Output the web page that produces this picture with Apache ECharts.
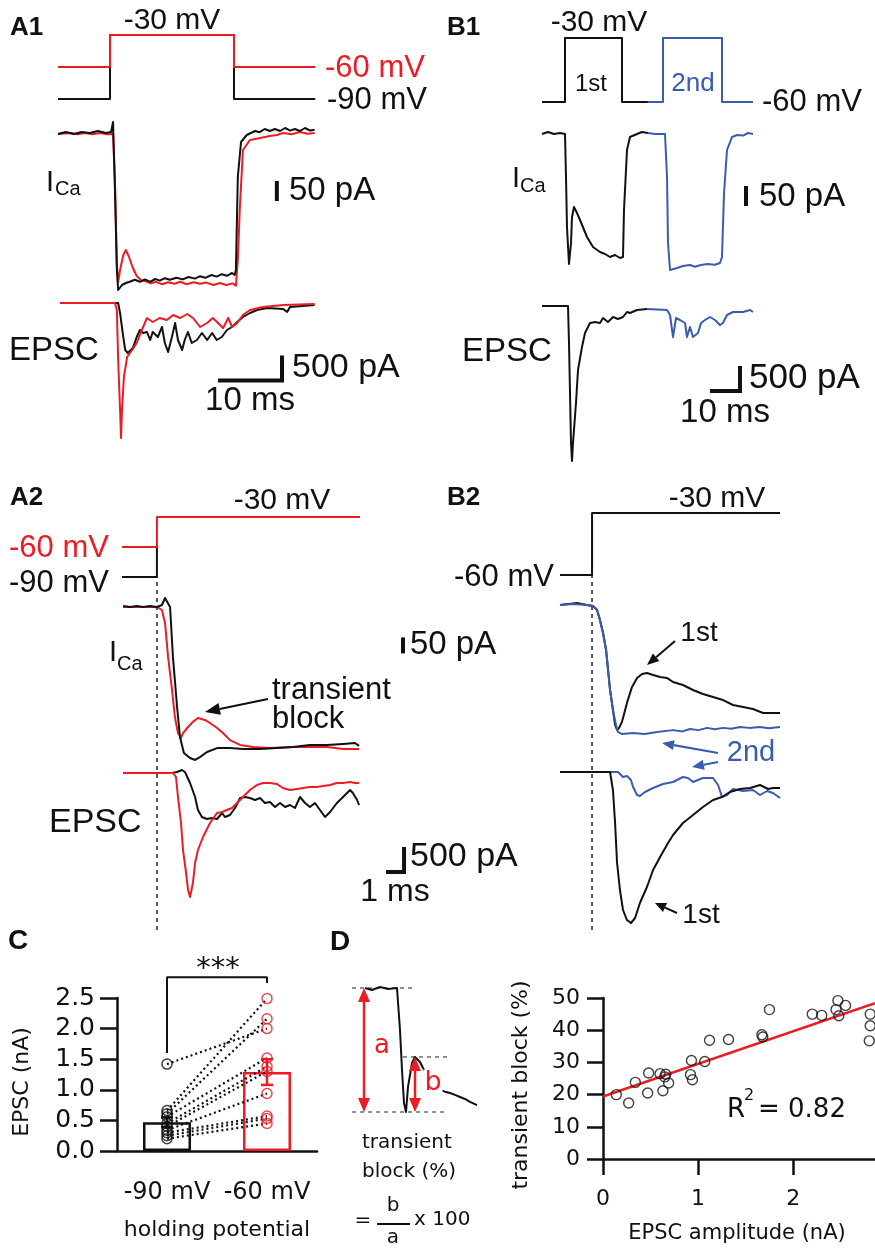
<!DOCTYPE html>
<html><head><meta charset="utf-8">
<script src="https://cdn.jsdelivr.net/npm/echarts@6.0.0/dist/echarts.min.js"></script>
<style>html,body{margin:0;padding:0;background:#fff}#c{width:875px;height:1248px}</style>
</head><body><div id="c"></div>
<script>
// ---------- DATA (time in ms, current in pA, voltage in mV) ----------
// A1
const a1VoltRed = [[0,-60],[8.13,-60],[8.13,-30],[27.5,-30],[27.5,-60],[40.2,-60]];
const a1VoltBlk = [[0,-90],[8.13,-90],[8.13,-30],[27.5,-30],[27.5,-90],[40.2,-90]];
const a1IcaBlk = [[0,-2.5],[1.2,2.5],[2.5,-2.5],[3.7,2.5],[5,0],[6.2,5],[7.5,0],[8.3,2.5],[8.6,27.5],[8.9,-142.5],[9.2,-342.5],[9.4,-392.5],[9.7,-395],[10,-380],[10.6,-375],[11.2,-372],[12,-367],[12.8,-372],[13.6,-366],[14.4,-372],[15.2,-365],[15.9,-369],[16.7,-363],[17.5,-367],[18.5,-362],[19.5,-366],[20.4,-360],[21.4,-364],[22.2,-358],[23,-362],[24,-355],[24.8,-359],[25.6,-353],[26.4,-357],[27.2,-350],[27.6,-355],[27.8,-342.5],[28.1,-110],[28.6,-22.5],[29.5,-5],[30.8,5],[31.5,2],[32.3,10],[33.1,5],[33.9,10],[34.7,5],[35.5,12.5],[36.3,6],[37,10],[37.8,5],[38.6,12.5],[39.4,6],[40.1,8]];
const a1IcaRed = [[0,-2.5],[1.9,0],[3,-3],[4.2,0],[5.4,-3],[6.6,0],[7.6,-3],[8.6,-2.5],[8.9,-117.5],[9.2,-330],[9.4,-372.5],[9.7,-342.5],[10.2,-305],[10.6,-292.5],[11.1,-310],[11.7,-337.5],[12.3,-357.5],[13,-368],[13.6,-370],[14.5,-376],[15.3,-372],[16.2,-378],[17.2,-373],[18.2,-377],[19.1,-372],[20.1,-378],[21.2,-373],[22.2,-377],[23.2,-374],[24.3,-380],[25.3,-375],[26.3,-380],[27.3,-376],[27.8,-382],[28.1,-317.5],[28.4,-192.5],[28.9,-42.5],[30,-17.5],[31.6,-12.5],[33.1,-7.5],[34.2,-5],[35.2,0],[36.5,-3],[37.8,2.5],[39,-2],[40.1,0]];
const a1EpscBlk = [[0.3,0],[8.9,0],[9.4,0],[9.7,-200],[10.2,-680],[10.5,-940],[10.9,-1000],[11.7,-900],[12.3,-680],[12.8,-540],[13.3,-600],[13.9,-580],[14.4,-740],[14.8,-580],[15.6,-680],[16.25,-480],[16.7,-800],[17.2,-980],[17.8,-680],[18.3,-400],[18.75,-740],[19.4,-940],[19.8,-740],[20.3,-580],[20.9,-800],[21.7,-740],[22.5,-600],[23.3,-740],[24.1,-600],[24.8,-740],[25.6,-680],[26.4,-540],[27.2,-480],[28,-380],[28.9,-280],[30,-200],[31.1,-140],[32.7,-100],[35.2,-120],[35.8,-180],[36.25,-80],[40.1,-40]];
const a1EpscRed = [[0.3,0],[8.9,0],[9.2,-140],[9.4,-1140],[9.7,-2140],[9.85,-2700],[10,-2140],[10.3,-1480],[10.8,-1080],[11.6,-940],[12.3,-800],[13.1,-540],[13.9,-300],[14.8,-380],[15.9,-300],[17,-340],[18,-240],[19.1,-300],[20.2,-220],[21.1,-300],[22.2,-480],[23.3,-400],[24.2,-300],[25,-400],[25.8,-500],[26.6,-300],[27.2,-480],[28,-400],[28.9,-240],[30,-140],[32,-80],[35.2,-40],[40.1,-20]];
const a1IcaBar = [[34.2,-120],[34.2,-170]];
const a1EpscBar = [[25,-1550],[35,-1550],[35,-1050]];
// B1
const b1Volt1 = [[0,-60],[7.67,-60],[7.67,-30],[26.67,-30],[26.67,-60],[35.3,-60]];
const b1Volt2 = [[35.3,-60],[40.33,-60],[40.33,-30],[60,-30],[60,-60],[70.33,-60]];
const b1Ica1 = [[0,0],[2,5],[4,0],[6,2.5],[7.67,0],[8,-107.5],[8.33,-232.5],[9,-325],[9.67,-272.5],[10,-207.5],[10.67,-182.5],[11.67,-197.5],[12.67,-215],[15,-257.5],[17,-282.5],[19.33,-295],[21,-300],[22.67,-307.5],[24.33,-302.5],[26,-310],[27,-307.5],[27.33,-190],[28.33,-40],[29.33,-7.5],[31.67,0],[33.3,5],[35.3,2.5]];
const b1Ica2 = [[35.3,2.5],[37.67,0],[41,0],[41.67,-107.5],[42,-272.5],[42.67,-340],[45,-335],[47,-330],[49.33,-327.5],[51,-332],[52.67,-328],[55,-325],[57.67,-327],[59.33,-322.5],[60,-307.5],[60.67,-147.5],[61.67,-40],[63.33,-7.5],[65,-2.5],[67,-4],[68.67,2.5],[70.33,0]];
const b1Epsc1 = [[0,0],[8.67,0],[9,-740],[9.67,-2740],[10,-3100],[10.33,-2740],[11.33,-1940],[12,-1280],[13.33,-820],[14.33,-540],[16,-340],[17.67,-320],[19.33,-340],[20.33,-240],[22,-320],[23.67,-220],[25.33,-260],[27,-220],[28.33,-120],[29.33,-140],[31.67,-80],[35,-60]];
const b1Epsc2 = [[35,-60],[41.67,-80],[42.67,-180],[43.67,-620],[44.67,-240],[46,-280],[47.67,-340],[48.33,-620],[49.33,-420],[50.33,-620],[52,-540],[53,-340],[54.33,-280],[56,-220],[57.67,-280],[59.33,-380],[60.33,-340],[61.67,-180],[63.67,-120],[67,-120],[69.33,-80],[70.33,-120]];
const b1IcaBar = [[68,-130],[68,-180]];
const b1EpscBar = [[56,-1700],[66,-1700],[66,-1200]];
// A2
const a2VoltRed = [[0,-60],[1.94,-60],[1.94,-30],[13.22,-30]];
const a2VoltBlk = [[0,-90],[1.94,-90],[1.94,-60]];
const a2IcaBlk = [[0.06,3.1],[0.44,0],[0.83,3.1],[1.17,0],[1.56,3.1],[1.94,0],[2.22,6.3],[2.39,28.1],[2.5,31.3],[2.67,0],[2.83,-156],[3.06,-312.5],[3.22,-406],[3.44,-456],[3.78,-472],[4.06,-478],[4.33,-469],[4.72,-453],[5.28,-441],[6,-441],[6.72,-444],[7.67,-444],[8.61,-441],[9.5,-437.5],[10.44,-431],[11.39,-431],[12.28,-428],[12.94,-425],[13.17,-434]];
const a2IcaRed = [[0.06,0],[1.17,0],[1.94,0],[2.22,-9.4],[2.39,-50],[2.56,-156],[2.78,-259],[2.94,-344],[3.11,-394],[3.28,-409],[3.39,-394],[3.67,-375],[3.94,-359],[4.22,-347],[4.61,-353],[4.89,-362.5],[5.28,-378],[5.61,-394],[6,-416],[6.56,-431],[7.28,-437.5],[8.22,-441],[9.5,-437.5],[10.44,-437.5],[11.39,-437.5],[12.28,-444],[13.17,-444]];
const a2EpscBlk = [[0.06,0],[2.78,0],[3.06,20],[3.33,60],[3.5,20],[3.78,-200],[4.06,-480],[4.22,-740],[4.44,-880],[4.72,-920],[5,-900],[5.28,-920],[5.56,-800],[5.72,-880],[6,-840],[6.28,-700],[6.56,-500],[6.83,-480],[7.11,-500],[7.39,-540],[7.67,-500],[7.94,-600],[8.22,-580],[8.5,-680],[8.78,-600],[9.06,-680],[9.33,-640],[9.61,-700],[9.89,-480],[10.17,-600],[10.44,-680],[10.72,-600],[11,-740],[11.28,-880],[11.56,-780],[11.94,-600],[12.28,-480],[12.67,-340],[12.83,-400],[13.06,-540],[13.17,-640]];
const a2EpscRed = [[0.06,0],[2.83,0],[3,-80],[3.11,-480],[3.28,-1000],[3.39,-1540],[3.56,-2000],[3.67,-2340],[3.78,-2480],[3.94,-2200],[4.06,-1800],[4.22,-1540],[4.5,-1280],[4.89,-1000],[5.28,-800],[5.56,-780],[5.83,-740],[6.11,-700],[6.39,-600],[6.72,-480],[7.11,-340],[7.5,-240],[7.83,-200],[8.22,-200],[8.61,-220],[8.94,-300],[9.33,-340],[9.72,-320],[10.06,-300],[10.44,-280],[10.83,-280],[11.17,-260],[11.56,-240],[11.94,-200],[12.28,-200],[12.67,-180],[12.94,-200],[13.17,-200]];
const a2IcaBar = [[15.61,-95],[15.61,-145]];
const a2EpscBar = [[14.67,-1980],[15.67,-1980],[15.67,-1480]];
const a2Guide = [[1.94,0],[1.94,1]];
// B2
const b2Volt = [[0,-60],[1.78,-60],[1.78,-30],[12.22,-30]];
const b2Ica1 = [[0,0],[0.94,6.3],[1.5,0],[1.83,-3.1],[2.06,-15.6],[2.22,-46.9],[2.39,-87.5],[2.56,-140.6],[2.67,-203],[2.78,-265.6],[2.94,-328],[3.06,-375],[3.17,-390.6],[3.28,-384],[3.44,-365.6],[3.72,-306],[4,-256],[4.28,-228],[4.56,-215.6],[4.83,-212.5],[5.17,-218.8],[5.56,-225],[5.94,-228],[6.28,-240.6],[6.83,-250],[7.39,-265.6],[7.94,-278],[8.5,-287.5],[9.06,-297],[9.61,-312.5],[10.17,-319],[10.72,-325],[11.28,-337.5],[11.83,-337.5],[12.22,-337.5]];
const b2Ica2 = [[0,0],[0.72,3.1],[1.5,0],[1.83,-3.1],[2.06,-15.6],[2.22,-46.9],[2.39,-87.5],[2.56,-140.6],[2.67,-203],[2.78,-265.6],[2.94,-328],[3.11,-375],[3.22,-397],[3.44,-403],[4.06,-400],[4.7,-403],[5.39,-397],[6.28,-391],[6.8,-395],[7.22,-387.5],[7.7,-391],[8.17,-384],[8.6,-388],[9.06,-384],[9.5,-387],[10,-381],[10.5,-384],[11.11,-381],[11.6,-385],[12.22,-381]];
const b2Epsc1 = [[0,0],[2.78,0],[2.94,-360],[3.06,-1020],[3.17,-1820],[3.33,-2360],[3.5,-2760],[3.72,-2960],[3.94,-3020],[4.17,-2920],[4.44,-2620],[4.83,-2300],[5.17,-1960],[5.56,-1700],[6,-1420],[6.28,-1260],[6.83,-1020],[7.39,-860],[7.94,-700],[8.5,-560],[9,-500],[9.44,-400],[10,-340],[10.56,-320],[11.11,-260],[11.56,-340],[11.83,-320],[12.22,-320]];
const b2Epsc2 = [[0,0],[2.78,0],[3.22,0],[3.5,-100],[3.72,-80],[3.94,-160],[4.06,-300],[4.28,-460],[4.44,-480],[4.72,-400],[5.17,-320],[5.72,-240],[6.28,-200],[6.83,-100],[7.11,-120],[7.39,-200],[7.94,-120],[8.5,-120],[8.78,-260],[9,-500],[9.28,-460],[9.61,-340],[10.17,-380],[10.72,-360],[11.11,-460],[11.5,-380],[11.83,-420],[12.22,-520]];
const b2Guide = [[1.78,0],[1.78,1]];
// C
const holdCats = ['-90 mV', '-60 mV'];
const epscAt90 = [1.42, 0.66, 0.61, 0.56, 0.45, 0.40, 0.34, 0.30, 0.25, 0.20];
const epscAt60 = [2.00, 2.49, 2.16, 1.52, 1.38, 1.30, 0.94, 0.57, 0.53, 0.45];
const epscMean = [0.47, 1.29];
const epscSem = [0.08, 0.21];
const bracketY = [1.6, 2.84, 2.745];
// D
const schemT = [0.2,0.9,1.7,2.5,3.4,3.5,3.7,3.9,4.1,4.3,4.5,4.9,5.2,5.7,6.0,6.7,7.2,7.7,8.2,8.7,9.2,9.7,10.2,10.7,11.4];
const schemV = [100,98.4,100.8,99.2,100,98.4,66.1,33.9,7.3,0,20.2,39.5,44.4,40.3,35.5,25.8,20.5,17.7,16.4,15.3,13.8,12.1,10.5,8.1,5.6];
const schemLevels = [100, 44.4, 0];
const schemLevelFrom = [-1.1, 4.0, -1.1];
const schemLevelTo = [5.0, 8.4, 8.4];
const ampX = [0.14,0.27,0.34,0.47,0.48,0.60,0.63,0.66,0.69,0.65,0.92,0.94,0.93,1.07,1.12,1.32,1.67,1.68,1.75,2.20,2.30,2.47,2.45,2.48,2.55,2.81,2.81,2.80];
const blockY = [20.0,17.4,23.8,20.5,26.7,26.5,21.2,26.3,23.6,25.5,26.2,24.6,30.6,30.3,36.9,37.1,38.6,37.9,46.4,45.0,44.6,49.2,46.4,44.5,47.7,45.0,41.4,36.7];
const fitX = [0, 2.86];
const fitY = [19.4, 48.4];
const ampTicks = [0, 1, 2];

// ---------- STYLE ----------
const RED = '#ec1c24', BLUE = '#3a5cb0', BLK = '#111', GRAY = '#555';
const FA = '"Liberation Sans", Arial, Helvetica, sans-serif';
const FD = '"DejaVu Sans", Verdana, sans-serif';

const grids = [], xAxes = [], yAxes = [], series = [], gfx = [];
function panel(left, top, width, height, xmin, xmax, ymin, ymax) {
  const i = grids.length;
  grids.push({left, top, width, height, containLabel:false, outerBoundsMode:'none'});
  xAxes.push({type:'value', gridIndex:i, min:xmin, max:xmax, show:false});
  yAxes.push({type:'value', gridIndex:i, min:ymin, max:ymax, show:false});
  return i;
}
function trace(g, data, color, w, extra) {
  series.push(Object.assign({type:'line', xAxisIndex:g, yAxisIndex:g, data, symbol:'none', showSymbol:false, clip:false,
    silent:true, lineStyle:{color, width:w || 2, join:'round', cap:'butt'}}, extra || {}));
}
function bar(g, data) { trace(g, data, BLK, 4, {lineStyle:{color:BLK, width:4, join:'miter', cap:'butt'}}); }
function txt(s, x, y, o) {
  o = o || {};
  const st = {text:s, fill:o.color || BLK, font:(o.weight || 'normal') + ' ' + (o.size || 30) + 'px ' + (o.family || FA),
    textAlign:o.align || 'center', align:o.align || 'center', textVerticalAlign:'middle', verticalAlign:'middle'};
  if (o.bg) { st.backgroundColor = o.bg; st.padding = [0, 1]; }
  gfx.push({type:'text', x, y, rotation:o.rot || 0, z:100, silent:true, style:st});
}
function arrow(x1, y1, x2, y2, color, head, hw, lw, both) {
  const a = Math.atan2(y2 - y1, x2 - x1), c = Math.cos(a), s = Math.sin(a);
  const bx = x2 - head * c, by = y2 - head * s;
  let sx = x1, sy = y1;
  gfx.push({type:'polygon', z:100, silent:true, shape:{points:[[x2,y2],[bx - s*hw, by + c*hw],[bx + s*hw, by - c*hw]]}, style:{fill:color}});
  if (both) {
    sx = x1 + head * c; sy = y1 + head * s;
    gfx.push({type:'polygon', z:100, silent:true, shape:{points:[[x1,y1],[sx - s*hw, sy + c*hw],[sx + s*hw, sy - c*hw]]}, style:{fill:color}});
  }
  gfx.push({type:'line', z:100, silent:true, shape:{x1:sx, y1:sy, x2:bx, y2:by}, style:{stroke:color, lineWidth:lw}});
}

// ---------- A1 ----------
const gA1v = panel(58, 35, 257, 64, 0, 40.16, -90, -30);
const gA1i = panel(58, 113, 257, 190, 0, 40.16, -425, 50);
const gA1e = panel(58, 290.5, 257, 155, 0, 40.16, -2850, 250);
trace(gA1v, a1VoltBlk, BLK, 2); trace(gA1v, a1VoltRed, RED, 2);
trace(gA1i, a1IcaRed, RED, 2); trace(gA1i, a1IcaBlk, BLK, 2);
trace(gA1e, a1EpscBlk, BLK, 2); trace(gA1e, a1EpscRed, RED, 2);
bar(gA1i, a1IcaBar); bar(gA1e, a1EpscBar);
// ---------- B1 ----------
const gB1v = panel(542, 38, 211, 64, 0, 70.33, -60, -30);
const gB1i = panel(542, 114, 211, 170, 0, 70.33, -375, 50);
const gB1e = panel(542, 293.5, 211, 177.5, 0, 70.33, -3300, 250);
trace(gB1v, b1Volt1, BLK, 2); trace(gB1v, b1Volt2, BLUE, 2);
trace(gB1i, b1Ica1, BLK, 2); trace(gB1i, b1Ica2, BLUE, 2);
trace(gB1e, b1Epsc1, BLK, 2); trace(gB1e, b1Epsc2, BLUE, 2);
bar(gB1i, b1IcaBar); bar(gB1e, b1EpscBar);
// ---------- A2 ----------
const gA2g = panel(122, 577, 288, 353, 0, 16, 0, 1);
const gA2v = panel(122, 517, 288, 60, 0, 16, -90, -30);
const gA2i = panel(122, 591, 288, 176, 0, 16, -500, 50);
const gA2e = panel(122, 765.5, 288, 137.5, 0, 16, -2600, 150);
trace(gA2g, a2Guide, GRAY, 2, {lineStyle:{color:GRAY, width:2, type:[4,4]}});
trace(gA2v, a2VoltBlk, BLK, 2); trace(gA2v, a2VoltRed, RED, 2);
trace(gA2i, a2IcaRed, RED, 2); trace(gA2i, a2IcaBlk, BLK, 2);
trace(gA2e, a2EpscBlk, BLK, 2); trace(gA2e, a2EpscRed, RED, 2);
bar(gA2i, a2IcaBar); bar(gA2e, a2EpscBar);
// ---------- B2 ----------
const gB2g = panel(560, 575, 220, 355, 0, 12.22, 0, 1);
const gB2v = panel(560, 513, 220, 62, 0, 12.22, -60, -30);
const gB2i = panel(560, 589, 220, 160, 0, 12.22, -450, 50);
const gB2e = panel(560, 764.5, 220, 167.5, 0, 12.22, -3200, 150);
trace(gB2g, b2Guide, GRAY, 2, {lineStyle:{color:GRAY, width:2, type:[4,4]}});
trace(gB2v, b2Volt, BLK, 2);
trace(gB2i, b2Ica1, BLK, 2); trace(gB2i, b2Ica2, BLUE, 2);
trace(gB2e, b2Epsc2, BLUE, 2); trace(gB2e, b2Epsc1, BLK, 2);

// ---------- C ----------
const gC = grids.length;
grids.push({left:117, top:998, width:200, height:153, containLabel:false, outerBoundsMode:'none'});
xAxes.push({type:'category', gridIndex:gC, data:holdCats,
  axisLine:{lineStyle:{color:BLK, width:2.5}},
  axisTick:{alignWithLabel:true, interval:0, length:16, lineStyle:{color:BLK, width:2.5}},
  axisLabel:{interval:0, hideOverlap:false, color:BLK, fontFamily:FD, fontSize:24, margin:30}, splitLine:{show:false}});
yAxes.push({type:'value', gridIndex:gC, min:0, max:2.5, interval:0.5,
  axisLine:{show:true, lineStyle:{color:BLK, width:2.5}},
  axisTick:{show:true, length:17, lineStyle:{color:BLK, width:2.5}},
  axisLabel:{color:BLK, fontFamily:FD, fontSize:25, margin:22, formatter:v => v.toFixed(1)},
  splitLine:{show:false}});
series.push({type:'bar', xAxisIndex:gC, yAxisIndex:gC, barWidth:48, silent:true, z:2,
  data:epscMean.map((v, i) => ({value:v, itemStyle:{color:'rgba(255,255,255,0)', borderColor:i ? RED : BLK, borderWidth:2.5}}))});
epscAt90.forEach((a, i) => series.push({type:'line', xAxisIndex:gC, yAxisIndex:gC, silent:true, z:3, symbol:'none',
  data:[[holdCats[0], a], [holdCats[1], epscAt60[i]]], lineStyle:{color:BLK, width:2.2, type:[2, 3]}}));
series.push({type:'custom', xAxisIndex:gC, yAxisIndex:gC, silent:true, z:5,
  data:epscMean.map((m, i) => [i, m - epscSem[i], m + epscSem[i]]),
  renderItem:(p, api) => {
    const lo = api.coord([api.value(0), api.value(1)]), hi = api.coord([api.value(0), api.value(2)]);
    const c = p.dataIndex ? RED : BLK, w = 6, st = {stroke:c, lineWidth:2.5};
    return {type:'group', children:[
      {type:'line', shape:{x1:lo[0], y1:lo[1], x2:hi[0], y2:hi[1]}, style:st},
      {type:'line', shape:{x1:lo[0]-w, y1:lo[1], x2:lo[0]+w, y2:lo[1]}, style:st},
      {type:'line', shape:{x1:hi[0]-w, y1:hi[1], x2:hi[0]+w, y2:hi[1]}, style:st}]};
  }});
series.push({type:'scatter', xAxisIndex:gC, yAxisIndex:gC, silent:true, z:6, symbolSize:10,
  data:epscAt90.map(v => [holdCats[0], v]), itemStyle:{color:'rgba(255,255,255,0)', borderColor:BLK, borderWidth:1.5}});
series.push({type:'scatter', xAxisIndex:gC, yAxisIndex:gC, silent:true, z:6, symbolSize:10,
  data:epscAt60.map(v => [holdCats[1], v]), itemStyle:{color:'rgba(255,255,255,0)', borderColor:RED, borderWidth:1.5}});
series.push({type:'line', xAxisIndex:gC, yAxisIndex:gC, silent:true, symbol:'none', clip:false,
  data:[[holdCats[0], bracketY[0]], [holdCats[0], bracketY[1]], [holdCats[1], bracketY[1]], [holdCats[1], bracketY[2]]],
  lineStyle:{color:BLK, width:2}});

// ---------- D schematic ----------
const gDs = panel(352, 988, 126, 124, -1.1, 11.5, 0, 100);
schemLevels.forEach((lv, i) => trace(gDs, [[schemLevelFrom[i], lv], [schemLevelTo[i], lv]], '#777', 1.6, {lineStyle:{color:'#777', width:1.6, type:[4,4]}}));
trace(gDs, schemT.map((t, i) => [t, schemV[i]]), BLK, 2);

// ---------- D scatter ----------
const gD = grids.length;
grids.push({left:603, top:998, width:272, height:161, containLabel:false, outerBoundsMode:'none'});
xAxes.push({type:'value', gridIndex:gD, min:0, max:fitX[1], interval:1,
  axisLine:{onZero:false, lineStyle:{color:BLK, width:2.5}},
  axisTick:{length:16, customValues:ampTicks, lineStyle:{color:BLK, width:2.5}},
  axisLabel:{customValues:ampTicks, color:BLK, fontFamily:FD, fontSize:22, margin:29}, splitLine:{show:false}});
yAxes.push({type:'value', gridIndex:gD, min:0, max:50, interval:10,
  axisLine:{show:true, lineStyle:{color:BLK, width:2.5}},
  axisTick:{show:true, length:16, lineStyle:{color:BLK, width:2.5}},
  axisLabel:{color:BLK, fontFamily:FD, fontSize:22, margin:23}, splitLine:{show:false}});
series.push({type:'line', xAxisIndex:gD, yAxisIndex:gD, silent:true, symbol:'none', clip:false, z:3,
  data:fitX.map((x, i) => [x, fitY[i]]), lineStyle:{color:RED, width:2.5}});
series.push({type:'scatter', xAxisIndex:gD, yAxisIndex:gD, silent:true, clip:false, z:4, symbolSize:10,
  data:ampX.map((x, i) => [x, blockY[i]]), itemStyle:{color:'rgba(255,255,255,0)', borderColor:BLK, borderWidth:1.4}});

// ---------- TEXT / ANNOTATIONS ----------
// A1
txt('A1', 10, 28, {size:26, weight:'bold', align:'left'});
txt('-30 mV', 172, 21, {size:30});
txt('-60 mV', 325, 68, {size:31, color:RED, align:'left'});
txt('-90 mV', 327, 100, {size:31, align:'left'});
txt('I', 46, 183, {size:29, align:'left'});
txt('Ca', 55, 189, {size:20, align:'left'});
txt('50 pA', 289, 191, {size:33, align:'left'});
txt('EPSC', 9, 351, {size:33, align:'left'});
txt('500 pA', 292, 368, {size:34, align:'left'});
txt('10 ms', 250, 401, {size:33});
// B1
txt('B1', 447, 28, {size:26, weight:'bold', align:'left'});
txt('-30 mV', 599, 23, {size:30});
txt('1st', 591, 84, {size:24});
txt('2nd', 693, 84, {size:26, color:BLUE});
txt('-60 mV', 762, 102, {size:31, align:'left'});
txt('I', 512, 179, {size:29, align:'left'});
txt('Ca', 520, 186, {size:20, align:'left'});
txt('50 pA', 759, 197, {size:33, align:'left'});
txt('EPSC', 462, 352, {size:33, align:'left'});
txt('500 pA', 749, 378, {size:35, align:'left'});
txt('10 ms', 725, 413, {size:33});
// A2
txt('A2', 10, 498, {size:26, weight:'bold', align:'left'});
txt('-30 mV', 282, 501, {size:30});
txt('-60 mV', 9, 548, {size:31, color:RED, align:'left'});
txt('-90 mV', 9, 583, {size:31, align:'left'});
txt('I', 109, 653, {size:29, align:'left'});
txt('Ca', 117, 664, {size:20, align:'left'});
txt('50 pA', 410, 645, {size:33, align:'left'});
txt('transient', 272, 690, {size:31, align:'left'});
txt('block', 272, 719, {size:31, align:'left'});
txt('EPSC', 49, 823, {size:34, align:'left'});
txt('500 pA', 410, 857, {size:34, align:'left'});
txt('1 ms', 395, 892, {size:32});
arrow(268, 699, 205, 712, BLK, 15, 6, 2.2);
// B2
txt('B2', 447, 498, {size:26, weight:'bold', align:'left'});
txt('-30 mV', 717, 499, {size:30});
txt('-60 mV', 454, 577, {size:31, align:'left'});
txt('1st', 699, 633, {size:28});
txt('2nd', 751, 753, {size:29, color:BLUE});
txt('1st', 701, 915, {size:28});
arrow(675, 641, 647, 665, BLK, 12, 5, 2);
arrow(718, 753, 662, 743, BLUE, 12, 5, 2.2);
arrow(718, 762, 692, 767, BLUE, 12, 5, 2.2);
arrow(677, 913, 655, 903, BLK, 11, 5, 2);
// C
txt('C', 8, 941, {size:28, weight:'bold', align:'left'});
txt('***', 218, 969, {size:29, family:FD});
txt('EPSC (nA)', 22, 1082, {size:22, family:FD, rot:Math.PI / 2});
txt('holding potential', 217, 1230, {size:22, family:FD});
// D
txt('D', 330, 942, {size:28, weight:'bold', align:'left'});
arrow(364, 988, 364, 1112, RED, 14, 6, 2.5, true);
arrow(415, 1057, 415, 1112, RED, 14, 6, 2.5, true);
txt('a', 382, 1046, {size:26, family:FD, color:RED});
txt('b', 433, 1083, {size:27, family:FD, color:RED, bg:'#fff'});
txt('transient', 362, 1143, {size:20, family:FD, align:'left'});
txt('block (%)', 362, 1172, {size:20, family:FD, align:'left'});
txt('=', 363, 1221, {size:20, family:FD});
txt('b', 393, 1206, {size:20, family:FD});
gfx.push({type:'line', z:100, silent:true, shape:{x1:377, y1:1224, x2:410, y2:1224}, style:{stroke:BLK, lineWidth:2}});
txt('a', 393, 1238, {size:20, family:FD});
txt('x 100', 414, 1220, {size:20, family:FD, align:'left'});
txt('transient block (%)', 521, 1085, {size:22, family:FD, rot:Math.PI / 2});
txt('EPSC amplitude (nA)', 737, 1234, {size:21, family:FD});
txt('R', 727, 1110, {size:26, family:FD, align:'left'});
txt('2', 744, 1096, {size:16, family:FD, align:'left'});
txt('= 0.82', 758, 1110, {size:26, family:FD, align:'left'});

const chart = echarts.init(document.getElementById('c'), null, {renderer:'canvas', width:875, height:1248});
chart.setOption({animation:false, backgroundColor:'#fff', grid:grids, xAxis:xAxes, yAxis:yAxes, series, graphic:{elements:gfx}});
</script></body></html>
